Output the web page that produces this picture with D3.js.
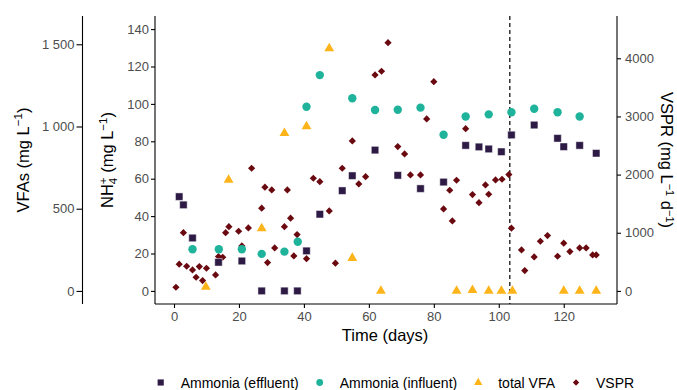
<!DOCTYPE html>
<html>
<head>
<meta charset="utf-8">
<script src="https://cdn.jsdelivr.net/npm/d3@7"></script>
<style>
  body { margin: 0; background: #fff; }
  svg { font-family: "Liberation Sans", Arial, Helvetica, sans-serif; }
  .tick text { fill: #4d4d4d; font-size: 13px; }
  .tick line, .domain { stroke: #000; stroke-width: 1.1; }
</style>
</head>
<body>
<div id="chart"></div>
<script>
// days and values
const effDays = [1.6, 2.9, 5.7, 13.7, 20.9, 27, 34, 38, 40.8, 44.9, 51.8, 54.9, 61.9, 68.9, 75.9, 83, 89.8, 93.9, 96.9, 100.8, 103.9, 110.9, 118.1, 120, 124.9, 130];
const effNH4 = [50.4, 46.0, 28.3, 15.3, 16.0, 0, 0, 0, 21.4, 41.0, 53.6, 61.6, 75.3, 61.8, 54.7, 58.2, 77.8, 77.0, 75.9, 74.4, 83.4, 88.7, 81.6, 77.1, 77.8, 73.6];

const infDays = [5.7, 13.8, 20.9, 27, 34, 38.1, 40.8, 44.9, 54.9, 61.9, 68.9, 75.9, 83, 89.8, 96.9, 103.9, 110.9, 118.1, 124.9];
const infNH4 = [22.3, 22.3, 22.3, 19.8, 21.0, 26.3, 98.5, 115.4, 103.0, 96.7, 96.9, 98.0, 83.5, 93.3, 94.4, 95.5, 97.4, 95.5, 93.3];

const vfaDays = [9.8, 16.8, 27, 34, 40.8, 47.8, 54.9, 63.7, 87, 91.9, 96.9, 100.8, 104.2, 120, 124.9, 130];
const vfaVals = [25, 675, 380, 960, 1000, 1475, 200, 0, 0, 5, 0, 0, 0, 0, 0, 0];

const vsprDays = [0.6, 1.6, 2.9, 3.9, 5.7, 6.8, 7.8, 8.8, 10.0, 12.8, 13.7, 15.0, 15.9, 16.9, 19.9, 20.9, 22.9, 23.9,
  27, 28, 28.8, 30.1, 31, 34, 34.9, 35.9, 36.9, 37.9, 40.8, 42.9, 44.9, 47.8, 49.7, 51.8, 54.9, 56.9, 59,
  61.9, 63.9, 65.9, 68.9, 71, 72.8, 75.9, 77.8, 80, 83, 84.9, 85.7, 87, 89.8, 91.9, 93.9, 95.9, 96.9, 99,
  101, 103.1, 103.9, 107, 108, 110.9, 112.8, 115, 118.1, 120, 121.9, 124.9, 126.9, 128.9, 130];
const vsprVals = [63, 459, 1002, 424, 361, 235, 418, 177, 390, 275, 590, 579, 1002, 1105, 1026, 774, 1083, 2109,
  1422, 1783, 487, 1736, 739, 1105, 1736, 1250, 602, 968, 555, 1937, 1879, 1375, 476, 2109, 2579, 1839, 1965,
  3713, 3777, 4269, 2481, 2355, 1994, 1994, 2957, 3598, 1410, 1731, 1203, 1903, 2790, 1656, 1518, 1822, 1662, 1908,
  1920, 2000, 1078, 705, 349, 584, 854, 951, 596, 820, 676, 739, 739, 619, 619];

const switchDay = 103.4;

const xTicks = [0, 20, 40, 60, 80, 100, 120];
const nh4Ticks = [0, 20, 40, 60, 80, 100, 120, 140];
const vfaTicks = [0, 500, 1000, 1500];
const vsprTicks = [0, 1000, 2000, 3000, 4000];

const seriesNames = ["Ammonia (effluent)", "Ammonia (influent)", "total VFA", "VSPR"];
const seriesColors = ["#2d1a45", "#1fb39b", "#fdb41a", "#6a0a10"];

const W = 677, H = 390;
const panel = {left: 155, right: 617, top: 16, bottom: 304};

const svg = d3.select("#chart").append("svg")
  .attr("width", W).attr("height", H);
svg.append("rect").attr("width", W).attr("height", H).attr("fill", "#fff");

const x = d3.scaleLinear().domain([-5.85, 136.4]).range([panel.left, panel.right]);
const yN = d3.scaleLinear().domain([-7, 147]).range([panel.bottom, panel.top]);
const yV = d3.scaleLinear().domain([-225, 4727]).range([panel.bottom, panel.top]);
const yF = d3.scaleLinear().domain([-79.5, 1672]).range([panel.bottom, panel.top]);

const spaceFmt = d3.formatLocale({decimal: ".", thousands: " ", grouping: [3], currency: ["", ""]}).format(",d");

// axes
svg.append("g")
  .attr("transform", "translate(0," + panel.bottom + ")")
  .call(d3.axisBottom(x).tickValues(xTicks).tickSize(4).tickPadding(4).tickSizeOuter(0))
  .call(g => g.select(".domain").attr("d", "M" + panel.left + ",0H" + panel.right));

svg.append("g")
  .attr("transform", "translate(" + panel.left + ",0)")
  .call(d3.axisLeft(yN).tickValues(nh4Ticks).tickSize(4).tickPadding(2).tickSizeOuter(0))
  .call(g => g.select(".domain").attr("d", "M0," + panel.top + "V" + panel.bottom));

svg.append("g")
  .attr("transform", "translate(" + panel.right + ",0)")
  .call(d3.axisRight(yV).tickValues(vsprTicks).tickFormat(d3.format("d")).tickSize(4).tickPadding(4).tickSizeOuter(0))
  .call(g => g.select(".domain").attr("d", "M0," + panel.top + "V" + panel.bottom));

svg.append("g")
  .attr("transform", "translate(82.5,0)")
  .call(d3.axisLeft(yF).tickValues(vfaTicks).tickFormat(spaceFmt).tickSize(6).tickPadding(2).tickSizeOuter(0))
  .call(g => g.select(".domain").attr("d", "M0," + panel.top + "V" + panel.bottom));

// switch line
svg.append("line")
  .attr("x1", x(switchDay)).attr("x2", x(switchDay))
  .attr("y1", panel.top).attr("y2", panel.bottom)
  .attr("stroke", "#000").attr("stroke-width", 1.2)
  .attr("stroke-dasharray", "4,3");

// points
const sqr = d3.symbol().type(d3.symbolSquare);
const tri = d3.symbol().type(d3.symbolTriangle);

svg.append("g").selectAll("path")
  .data(d3.zip(vsprDays, vsprVals))
  .join("path")
  .attr("d", sqr.size(26)())
  .attr("transform", d => "translate(" + x(d[0]) + "," + yV(d[1]) + ") rotate(45)")
  .attr("fill", seriesColors[3]);

svg.append("g").selectAll("path")
  .data(d3.zip(vfaDays, vfaVals))
  .join("path")
  .attr("d", tri.size(42)())
  .attr("transform", d => "translate(" + x(d[0]) + "," + yF(d[1]) + ")")
  .attr("fill", seriesColors[2]);

svg.append("g").selectAll("circle")
  .data(d3.zip(infDays, infNH4))
  .join("circle")
  .attr("cx", d => x(d[0])).attr("cy", d => yN(d[1]))
  .attr("r", 4.2)
  .attr("fill", seriesColors[1]);

svg.append("g").selectAll("path")
  .data(d3.zip(effDays, effNH4))
  .join("path")
  .attr("d", sqr.size(56)())
  .attr("transform", d => "translate(" + x(d[0]) + "," + yN(d[1]) + ")")
  .attr("fill", seriesColors[0])
  .attr("stroke", "#fff").attr("stroke-opacity", 0.6).attr("stroke-width", 0.8);

// titles
const titleSize = 16.5;
function supText(t, parts) {
  parts.forEach(p => {
    const s = t.append("tspan").text(p.t);
    if (p.size) s.attr("font-size", p.size);
    if (p.dy) s.attr("dy", p.dy);
    if (p.dx) s.attr("dx", p.dx);
  });
}

svg.append("text")
  .attr("x", x(65)).attr("y", 341)
  .attr("text-anchor", "middle").attr("font-size", titleSize)
  .text("Time (days)");

const vfaT = svg.append("text")
  .attr("transform", "translate(28.5,160) rotate(-90)")
  .attr("text-anchor", "middle").attr("font-size", titleSize);
supText(vfaT, [
  {t: "VFAs (mg L"}, {t: "\u22121", size: 11.5, dy: -6.5}, {t: ")", dy: 6.5}
]);

const nhT = svg.append("text")
  .attr("transform", "translate(113,160) rotate(-90)")
  .attr("text-anchor", "middle").attr("font-size", titleSize);
supText(nhT, [
  {t: "NH"}, {t: "4", size: 11.5, dy: 3.5}, {t: "+", size: 11.5, dx: -6.4, dy: -10},
  {t: " (mg L", dy: 6.5}, {t: "\u22121", size: 11.5, dy: -6.5}, {t: ")", dy: 6.5}
]);

const vsT = svg.append("text")
  .attr("transform", "translate(660.5,160) rotate(90)")
  .attr("text-anchor", "middle").attr("font-size", titleSize);
supText(vsT, [
  {t: "VSPR (mg L"}, {t: "\u22121", size: 11, dy: -5.5}, {t: " d", dy: 5.5},
  {t: "\u22121", size: 11, dy: -5.5}, {t: ")", dy: 5.5}
]);

// legend
const legY = 382.5;
const leg = svg.append("g").attr("font-size", 14);
let lx = 160.7;
seriesNames.forEach((name, i) => {
  let key;
  if (i === 0) key = leg.append("path").attr("d", sqr.size(38)());
  else if (i === 1) key = leg.append("circle").attr("r", 3.4);
  else if (i === 2) key = leg.append("path").attr("d", tri.size(30)());
  else key = leg.append("path").attr("d", sqr.size(20)());
  key.attr("fill", seriesColors[i])
    .attr("transform", "translate(" + lx + "," + legY + ")" + (i === 3 ? " rotate(45)" : ""));
  const t = leg.append("text").attr("x", lx + 20).attr("y", legY + 5).text(name);
  lx += 20 + t.node().getComputedTextLength() + 21;
});
</script>
</body>
</html>
